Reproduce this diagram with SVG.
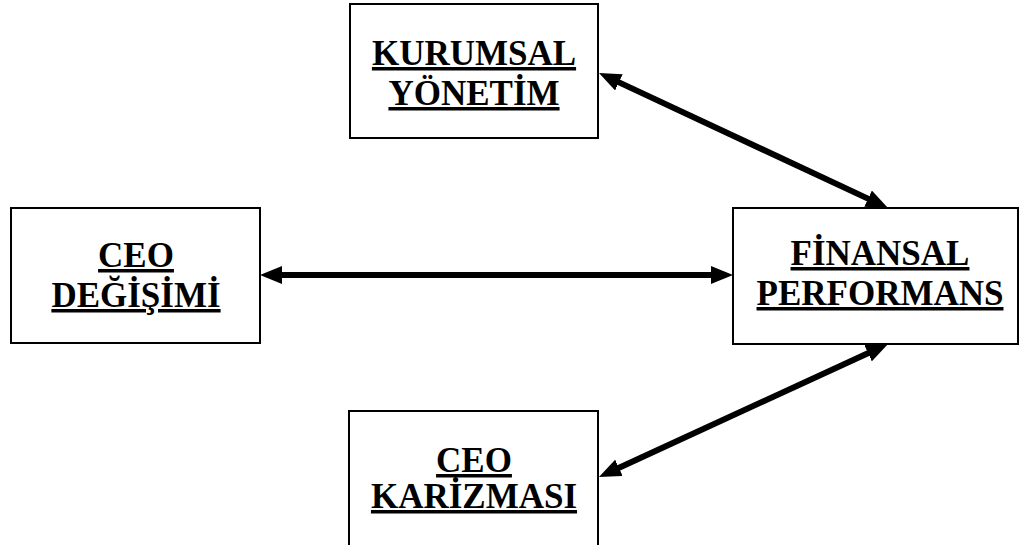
<svg xmlns="http://www.w3.org/2000/svg" width="1020" height="545" viewBox="0 0 1020 545">
<style>
.box{fill:#fff;stroke:#000;stroke-width:2}
.t{font-family:"Liberation Serif","Times New Roman",serif;font-weight:bold;font-size:35px;text-anchor:middle;text-decoration:underline;fill:#000}
.c{stroke:#000;stroke-width:6;fill:none}
</style>
<defs>
<marker id="ah" markerUnits="userSpaceOnUse" viewBox="0 0 22 18" refX="4" refY="9" markerWidth="22" markerHeight="18" orient="auto-start-reverse">
<path d="M0,0 L22,9 L0,18 z" fill="#000"/>
</marker>
</defs>
<g id="kurumsal">
<rect class="box" x="350" y="4" width="248" height="134"/>
<text class="t" x="474" y="65">KURUMSAL</text>
<text class="t" x="474" y="105">YÖNETİM</text>
</g>
<g id="ceo-degisimi">
<rect class="box" x="11" y="208" width="249" height="135"/>
<text class="t" x="136" y="267">CEO</text>
<text class="t" x="136" y="307">DEĞİŞİMİ</text>
</g>
<g id="finansal">
<rect class="box" x="733" y="208" width="285" height="136"/>
<text class="t" x="880" y="265">FİNANSAL</text>
<text class="t" x="880" y="305">PERFORMANS</text>
</g>
<g id="ceo-karizmasi">
<rect class="box" x="349" y="411" width="249" height="150"/>
<text class="t" x="474" y="472">CEO</text>
<text class="t" x="474" y="508">KARİZMASI</text>
</g>
<g id="connectors">
<line class="c" x1="278" y1="275" x2="715" y2="275" marker-start="url(#ah)" marker-end="url(#ah)"/>
<line class="c" x1="615.3" y1="80.6" x2="871.7" y2="200.4" marker-start="url(#ah)" marker-end="url(#ah)"/>
<line class="c" x1="871.7" y1="351.5" x2="615.3" y2="469.5" marker-start="url(#ah)" marker-end="url(#ah)"/>
</g>
</svg>
